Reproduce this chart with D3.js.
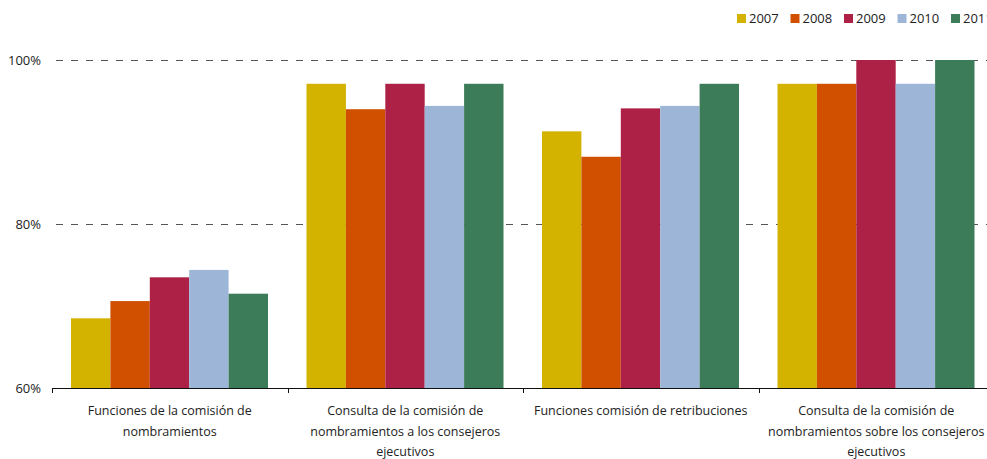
<!DOCTYPE html>
<html><head><meta charset="utf-8">
<script src="https://cdn.jsdelivr.net/npm/d3@7"></script>
<style>
html,body{margin:0;padding:0;background:#fff;overflow:hidden}
text{font-family:"Open Sans","Noto Sans",sans-serif;fill:#222}
</style></head>
<body><svg id="c" width="987" height="459"></svg>
<script>
const categories = [
  "Funciones de la comisión de nombramientos",
  "Consulta de la comisión de nombramientos a los consejeros ejecutivos",
  "Funciones comisión de retribuciones",
  "Consulta de la comisión de nombramientos sobre los consejeros ejecutivos"
];
const categoryLines = [
  ["Funciones de la comisión de", "nombramientos"],
  ["Consulta de la comisión de", "nombramientos a los consejeros", "ejecutivos"],
  ["Funciones comisión de retribuciones"],
  ["Consulta de la comisión de", "nombramientos sobre los consejeros", "ejecutivos"]
];
const years = ["2007", "2008", "2009", "2010", "2011"];
const v2007 = [68.5, 97.1, 91.3, 97.1];
const v2008 = [70.6, 94.0, 88.2, 97.1];
const v2009 = [73.5, 97.1, 94.1, 100];
const v2010 = [74.4, 94.4, 94.4, 97.1];
const v2011 = [71.5, 97.1, 97.1, 100];
const yTicks = [60, 80, 100];
const colors = ["#D4B200", "#D05000", "#AE2146", "#9DB6D8", "#3C7C59"];

const series = [v2007, v2008, v2009, v2010, v2011];
const svg = d3.select("#c");
const mLeft = 52, mBottom = 388, mTop = 60;
const x = d3.scaleBand().domain(categories).range([mLeft, mLeft + 4 * 235.5]).paddingInner(0).paddingOuter(0);
const xi = d3.scaleBand().domain(years).range([19, x.bandwidth() - 19.5]).padding(0);
const y = d3.scaleLinear().domain([60, 100]).range([mBottom, mTop]);

// gridlines
svg.append("g").selectAll("line").data(yTicks.filter(t => t > 60)).join("line")
  .attr("x1", mLeft).attr("x2", 987)
  .attr("y1", d => y(d) + 0.5).attr("y2", d => y(d) + 0.5)
  .attr("stroke", "#555").attr("stroke-width", 1).attr("stroke-dasharray", "7,8").attr("stroke-dashoffset", -4);

// bars
const g = svg.append("g");
categories.forEach((c, ci) => {
  years.forEach((yr, si) => {
    const val = series[si][ci];
    g.append("rect")
      .attr("x", x(c) + xi(yr))
      .attr("width", xi.bandwidth())
      .attr("y", y(val))
      .attr("height", y(60) - y(val))
      .attr("fill", colors[si]);
  });
});

// y axis labels
svg.append("g").selectAll("text").data(yTicks).join("text")
  .attr("x", 41).attr("y", d => y(d) + 5)
  .attr("text-anchor", "end").style("font-size", "13px")
  .text(d => d + "%");

// x axis
const xAxis = svg.append("g");
xAxis.append("line").attr("x1", mLeft).attr("x2", 987).attr("y1", mBottom + 0.5).attr("y2", mBottom + 0.5)
  .attr("stroke", "#111").attr("stroke-width", 1.2);
const tickPos = categories.map(c => x(c)).concat([x.range()[1]]);
xAxis.selectAll("line.tick").data(tickPos).join("line").attr("class", "tick")
  .attr("x1", d => Math.round(d) + 0.5).attr("x2", d => Math.round(d) + 0.5)
  .attr("y1", mBottom).attr("y2", mBottom + 5).attr("stroke", "#111");

categories.forEach((c, ci) => {
  const t = svg.append("text").attr("text-anchor", "middle").style("font-size", "12.5px")
    .attr("x", x(c) + x.bandwidth() / 2).attr("y", 415);
  categoryLines[ci].forEach((ln, li) => {
    t.append("tspan").attr("x", x(c) + x.bandwidth() / 2).attr("dy", li === 0 ? 0 : 20.5).text(ln);
  });
});

// legend
const lg = svg.append("g");
years.forEach((yr, i) => {
  const lx = 737 + i * 53.5;
  lg.append("rect").attr("x", lx).attr("y", 14).attr("width", 9).attr("height", 9).attr("fill", colors[i]);
  lg.append("text").attr("x", lx + 12).attr("y", 23).style("font-size", "13px").text(yr);
});
</script></body></html>
